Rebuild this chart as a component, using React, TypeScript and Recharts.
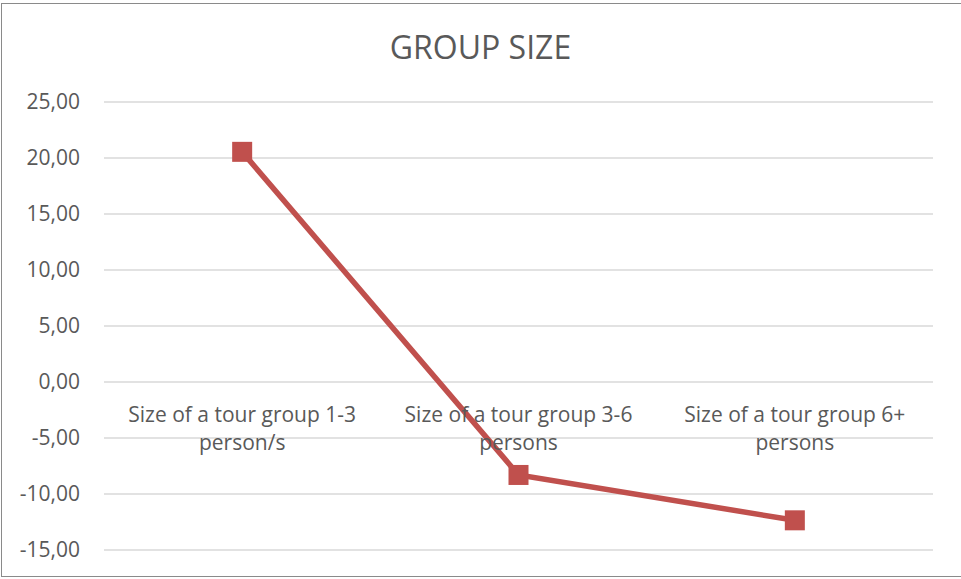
import React from 'react';
import { LineChart, Line, XAxis, YAxis, CartesianGrid } from 'recharts';

const categories = [
  'Size of a tour group 1-3 person/s',
  'Size of a tour group 3-6 persons',
  'Size of a tour group 6+ persons',
];
const labelLines = [
  ['Size of a tour group 1-3', 'person/s'],
  ['Size of a tour group 3-6', 'persons'],
  ['Size of a tour group 6+', 'persons'],
];
const values = [20.55, -8.3, -12.35];
const yTicks = [-15, -10, -5, 0, 5, 10, 15, 20, 25];
const title = 'GROUP SIZE';

const data = categories.map((c, i) => ({ name: c, idx: i, value: values[i] }));

const W = 961;
const H = 579;
const M = { top: 102, right: 28, bottom: 28, left: 0 };
const YAXIS_W = 104;
const DOMAIN: [number, number] = [-15, 25];
const FONT = '"Open Sans", sans-serif';
const TEXT = '#595959';
const RED = '#C0504D';

const plotH = H - M.top - M.bottom - 1;
const zeroY = M.top + (plotH * (DOMAIN[1] - 0)) / (DOMAIN[1] - DOMAIN[0]);

const CatTick = (props: any) => {
  const { x, payload } = props;
  const lines = labelLines[payload.index] || [String(payload.value)];
  return (
    <g>
      {lines.map((l, i) => (
        <text
          key={i}
          x={x}
          y={zeroY + 40 + i * 28}
          textAnchor="middle"
          fill={TEXT}
          fontSize={21}
          fontFamily={FONT}
        >
          {l}
        </text>
      ))}
    </g>
  );
};

const SquareDot = (props: any) => {
  const { cx, cy } = props;
  if (cx == null || cy == null) return null;
  return <rect x={cx - 10} y={cy - 10} width={20} height={20} fill={RED} />;
};

const fmt = (v: number) => v.toFixed(2).replace('.', ',');

export default function App() {
  return (
    <div style={{ position: 'absolute', left: 0, top: 0, width: W, height: H, background: '#fff' }}>
      <div
        style={{
          position: 'absolute',
          left: 1,
          top: 3,
          width: W + 10,
          height: H - 5,
          border: '1.5px solid #8a8a8a',
          boxSizing: 'border-box',
        }}
      />
      <div
        style={{
          position: 'absolute',
          left: 0,
          top: 27,
          width: W,
          textAlign: 'center',
          fontFamily: FONT,
          fontSize: 32,
          color: TEXT,
          lineHeight: '40px',
        }}
      >
        {title}
      </div>
      <div style={{ position: 'absolute', left: 0, top: 0 }}>
        <LineChart width={W} height={H} data={data} margin={M}>
          <CartesianGrid vertical={false} stroke="#d9d9d9" strokeWidth={1.5} />
          <XAxis
            dataKey="name"
            scale="band"
            axisLine={false}
            tickLine={false}
            height={1}
            interval={0}
            tick={<CatTick />}
          />
          <YAxis
            type="number"
            domain={DOMAIN}
            ticks={yTicks}
            width={YAXIS_W}
            axisLine={false}
            tickLine={false}
            tickMargin={18}
            tickFormatter={fmt}
            tick={{ fill: TEXT, fontSize: 21, fontFamily: FONT }}
          />
          <Line
            dataKey="value"
            stroke={RED}
            strokeWidth={5.5}
            dot={<SquareDot />}
            activeDot={false}
            isAnimationActive={false}
          />
        </LineChart>
      </div>
    </div>
  );
}
